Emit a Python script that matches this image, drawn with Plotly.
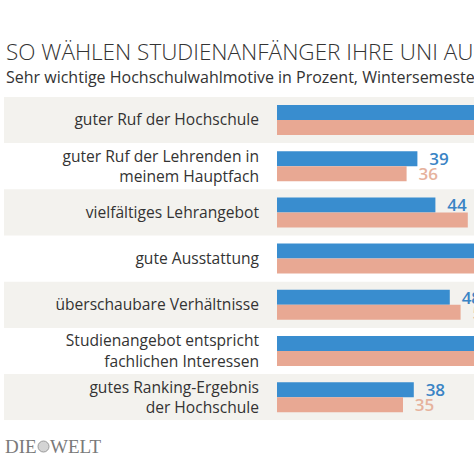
import plotly.graph_objects as go

categories = [
    "guter Ruf der Hochschule",
    "guter Ruf der Lehrenden in<br>meinem Hauptfach",
    "vielfältiges Lehrangebot",
    "gute Ausstattung",
    "überschaubare Verhältnisse",
    "Studienangebot entspricht<br>fachlichen Interessen",
    "gutes Ranking-Ergebnis<br>der Hochschule",
]
series_a = [60, 39, 44, 58, 48, 82, 38]   # blue
series_b = [59, 36, 53, 57, 51, 80, 35]   # salmon
title_text = "SO WÄHLEN STUDIENANFÄNGER IHRE UNI AUS"
subtitle_text = "Sehr wichtige Hochschulwahlmotive in Prozent, Wintersemester 2018/19"

W, H = 474, 463
BLUE, SALMON = "#398dcf", "#e8a893"
BLUE_T, SALMON_T = "#3a84c5", "#e6b29d"
XMAX = (W - 277) / 3.6

idx = list(range(len(categories)))

def positions(vals):
    return ["outside" if v < XMAX - 2 else "none" for v in vals]

fig = go.Figure()
fig.add_trace(go.Bar(
    y=idx, x=series_a, orientation="h", marker=dict(color=BLUE, line=dict(width=0)),
    text=[f"  {v}" for v in series_a], textposition=positions(series_a),
    textfont=dict(family="Open Sans", size=17, color=BLUE_T, weight=600),
    constraintext="none", cliponaxis=True, hoverinfo="skip",
))
fig.add_trace(go.Bar(
    y=idx, x=series_b, orientation="h", marker=dict(color=SALMON, line=dict(width=0)),
    text=[f"  {v}" for v in series_b], textposition=positions(series_b),
    textfont=dict(family="Open Sans", size=17, color=SALMON_T, weight=600),
    constraintext="none", cliponaxis=True, hoverinfo="skip",
))

shapes = []
for i in idx:
    if i % 2 == 0:
        shapes.append(dict(type="rect", xref="paper", yref="y", x0=4 / W, x1=1,
                           y0=i - 0.5, y1=i + 0.5, fillcolor="#f3f2ee",
                           line=dict(width=0), layer="below"))
# globe of logo
shapes.append(dict(type="circle", xref="paper", yref="paper",
                   x0=38 / W, x1=49 / W, y0=1 - 452 / H, y1=1 - 441 / H,
                   fillcolor="#d4d4d4", line=dict(color="#9a9a9a", width=1)))

ytop = 1 - 96.9 / H
ybot = 1 - 420.3 / H

fig.update_layout(
    width=W, height=H, margin=dict(l=0, r=0, t=0, b=0),
    paper_bgcolor="white", plot_bgcolor="rgba(0,0,0,0)",
    barmode="group", bargap=0.35, bargroupgap=0, showlegend=False,
    shapes=shapes,
    xaxis=dict(domain=[277 / W, 1], range=[0, XMAX], visible=False, fixedrange=True),
    yaxis=dict(domain=[ybot, ytop], range=[6.5, -0.5], tickmode="array",
               tickvals=idx, ticktext=categories, showgrid=False, zeroline=False,
               showline=False, ticks="", ticklabelstandoff=17, fixedrange=True,
               tickfont=dict(family="Open Sans", size=15.6, color="#333333")),
    annotations=[
        dict(text=title_text, xref="paper", yref="paper", x=4 / W, y=1 - 34 / H,
             xanchor="left", yanchor="top", showarrow=False,
             font=dict(family="Open Sans", size=22.5, color="#333333", weight=300)),
        dict(text=subtitle_text, xref="paper", yref="paper", x=4 / W, y=1 - 64 / H,
             xanchor="left", yanchor="top", showarrow=False,
             font=dict(family="Open Sans", size=16, color="#333333")),
        dict(text="DIE", xref="paper", yref="paper", x=3 / W, y=1 - 446 / H,
             xanchor="left", yanchor="middle", showarrow=False,
             font=dict(family="Liberation Serif", size=19, color="#7a7a7a")),
        dict(text="WELT", xref="paper", yref="paper", x=48 / W, y=1 - 446 / H,
             xanchor="left", yanchor="middle", showarrow=False,
             font=dict(family="Liberation Serif", size=19, color="#7a7a7a")),
    ],
)

fig.write_html("out.html", config={"displayModeBar": False},
               post_script="document.body.style.margin='0';")
